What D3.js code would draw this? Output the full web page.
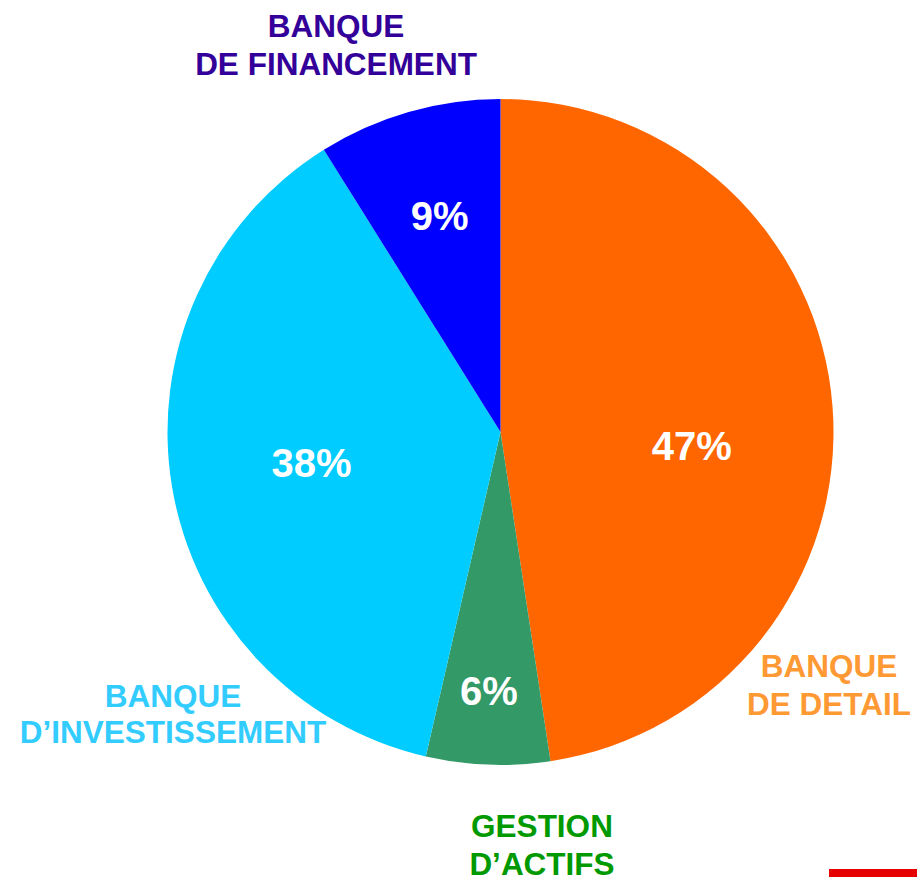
<!DOCTYPE html>
<html>
<head>
<meta charset="utf-8">
<script src="https://cdn.jsdelivr.net/npm/d3@7"></script>
<style>
  html, body { margin: 0; padding: 0; background: #fff; }
  svg { display: block; font-family: "Liberation Sans", Arial, sans-serif; font-weight: bold; }
</style>
</head>
<body>
<svg></svg>
<script>
// data, clockwise from 12 o'clock
const segments = ['BANQUE DE DETAIL', 'GESTION D\u2019ACTIFS', 'BANQUE D\u2019INVESTISSEMENT', 'BANQUE DE FINANCEMENT']
const shares = [47.6, 6.0, 37.5, 8.9]
const shareLabels = ['47%', '6%', '38%', '9%']
const nameLines = [
  ['BANQUE', 'DE DETAIL'],
  ['GESTION', 'D\u2019ACTIFS'],
  ['BANQUE', 'D\u2019INVESTISSEMENT'],
  ['BANQUE', 'DE FINANCEMENT']
]

// styles / layout
const dims = { width: 917, height: 877 }
const cx = 500.5, cy = 432, radius = 333
const sliceColors = ['#ff6600', '#339966', '#00ccff', '#0000ff']
const nameColors = ['#ff9933', '#009900', '#33ccff', '#330099']
// [radius fraction, angle shift in degrees] for the percent labels
const pctPlace = [[0.576, 8.3], [0.776, 0.4], [0.575, 0.3], [0.674, 0.3]]
// centre x and first baseline of the segment names
const namePlace = [[829, 677], [542, 837], [173, 707], [336, 37]]
const nameLeading = [38, 37.5, 36, 38]

const svg = d3.select('svg')
  .attr('width', dims.width)
  .attr('height', dims.height)

const pie = d3.pie().sort(null).value(d => d)
const arcs = pie(shares)
const arc = d3.arc().innerRadius(0).outerRadius(radius)

const pieG = svg.append('g').attr('transform', `translate(${cx},${cy})`)

pieG.selectAll('path').data(arcs)
  .enter().append('path')
    .attr('fill', (d, i) => sliceColors[i])
    .attr('d', arc)

// percent labels
pieG.selectAll('text.pct').data(arcs)
  .enter().append('text')
    .attr('class', 'pct')
    .attr('text-anchor', 'middle')
    .attr('dy', '0.36em')
    .attr('fill', '#fff')
    .attr('font-size', 40)
    .attr('x', (d, i) => {
      const a = (d.startAngle + d.endAngle) / 2 + pctPlace[i][1] * Math.PI / 180
      return Math.sin(a) * radius * pctPlace[i][0]
    })
    .attr('y', (d, i) => {
      const a = (d.startAngle + d.endAngle) / 2 + pctPlace[i][1] * Math.PI / 180
      return -Math.cos(a) * radius * pctPlace[i][0]
    })
    .text((d, i) => shareLabels[i])

// segment names
const names = svg.selectAll('text.name').data(segments)
  .enter().append('text')
    .attr('class', 'name')
    .attr('text-anchor', 'middle')
    .attr('font-size', 31.5)
    .attr('fill', (d, i) => nameColors[i])

names.selectAll('tspan').data((d, i) => nameLines[i].map((t, j) => ({ t, j, i })))
  .enter().append('tspan')
    .attr('x', d => namePlace[d.i][0])
    .attr('y', d => namePlace[d.i][1] + d.j * nameLeading[d.i])
    .text(d => d.t)

// red marker bottom right
svg.append('rect')
  .attr('x', 829)
  .attr('y', 869)
  .attr('width', 88)
  .attr('height', 8)
  .attr('fill', '#e60000')
</script>
</body>
</html>
